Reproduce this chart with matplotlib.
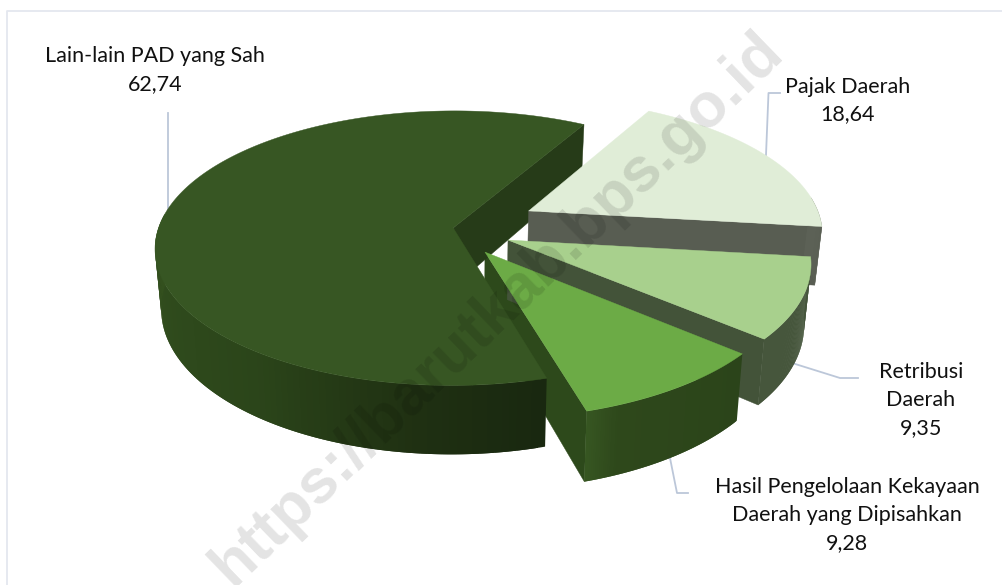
import numpy as np
import matplotlib
matplotlib.use("Agg")
import matplotlib.pyplot as plt
from matplotlib.collections import PolyCollection
from matplotlib.colors import to_rgb

# Data
labels = ["Pajak Daerah", "Retribusi\nDaerah", "Hasil Pengelolaan Kekayaan\nDaerah yang Dipisahkan", "Lain-lain PAD yang Sah"]
values = [18.64, 9.35, 9.28, 62.74]
value_labels = ["18,64", "9,35", "9,28", "62,74"]

# Look of the 3D pie (pixel units, y down)
first_angle = 29.7
cx, cy = 465, 232
rx, ry = 296, 135.5
persp = 0.148
depth = 59
shrink = 0.98
explode = [(0.22, 0.159), (0.144, -0.059), (0.066, -0.145), (-0.04, 0.03)]
top_colors = ["#E0EDD7", "#A8D08D", "#6CAB46", "#375623"]
face_colors = ["#585D52", "#435339", "#2D491B", "#263B18"]
wall_angles = [
    [84, 97],
    [97, 131],
    [131, 158, 164],
    [164, 185, 215, 250, 276],
]
wall_colors = [
    ["#5E6358", "#5E6358"],
    ["#46563C", "#46563C"],
    ["#2B441A", "#2E481B", "#375722"],
    ["#192810", "#1F3012", "#2B451A", "#304C1D", "#35521F"],
]


def project(a, off, low=False):
    a = np.radians(a)
    x = np.sin(a) + off[0]
    y = np.cos(a) + off[1]
    s = 1 / (1 + persp * y)
    px = rx * x * s
    py = -ry * y * s
    if low:
        return cx + px * shrink, cy + py + depth * s
    return cx + px, cy + py


def apex(off, low=False):
    x, y = off
    s = 1 / (1 + persp * y)
    px = rx * x * s
    py = -ry * y * s
    if low:
        return cx + px * shrink, cy + py + depth * s
    return cx + px, cy + py


def draw_face(i):
    # flat cut side at the end of the slice
    off = explode[i]
    px, py = project(ends[i], off)
    qx, qy = project(ends[i], off, low=True)
    ux, uy = apex(off)
    vx, vy = apex(off, low=True)
    ax.fill([ux, px, qx, vx], [uy, py, qy, vy], color=face_colors[i], lw=0.3, zorder=2)


def draw_wall(i):
    # outer wall, only the part turned to the viewer
    off = explode[i]
    a0 = max(starts[i], 84)
    a1 = min(ends[i], 276)
    angs = np.linspace(a0, a1, 90)
    rgb = np.array([to_rgb(c) for c in wall_colors[i]])
    quads, cols = [], []
    for j in range(len(angs) - 1):
        # each piece runs under the next one so no seams show
        a = angs[j]
        b = angs[min(j + 2, len(angs) - 1)]
        arc = np.linspace(a, b, 4)
        tx, ty = project(arc, off)
        qx, qy = project(arc[::-1], off, low=True)
        quads.append(np.c_[np.r_[tx, qx], np.r_[ty, qy]])
        cols.append([np.interp(angs[j], wall_angles[i], rgb[:, k]) for k in range(3)])
    ax.add_collection(PolyCollection(quads, facecolors=cols, edgecolors="none", zorder=2))


def draw_top(i):
    off = explode[i]
    angs = np.linspace(starts[i], ends[i], 200)
    tx, ty = project(angs, off)
    ux, uy = apex(off)
    ax.fill(np.r_[ux, tx], np.r_[uy, ty], color=top_colors[i], lw=0.3, zorder=2)


fig = plt.figure(figsize=(10.03, 5.85), dpi=100)
ax = fig.add_axes([0, 0, 1, 1])
ax.set_xlim(0, 1003)
ax.set_ylim(585, 0)
ax.axis("off")

# Chart frame
ax.plot([7, 7, 1003], [585, 10.5, 10.5], color="#E4E7EF", lw=1.3, zorder=1)

# Slice angles come from the values
total = sum(values)
spans = np.array(values) / total * 360
starts = first_angle + np.concatenate([[0], np.cumsum(spans)[:-1]])
ends = starts + spans

# Painting order: the big slice hides the cut side of Hasil
draw_face(2)
draw_face(3)
draw_wall(3)
draw_top(3)
for i in [0, 1]:
    draw_face(i)
    draw_wall(i)
    draw_top(i)
draw_wall(2)
draw_top(2)

# Leader lines
line_col = "#BCC7D9"
ax.plot([168, 168], [113, 212], color=line_col, lw=1.3, zorder=1)
ax.plot([766, 768.5, 780], [155, 93, 93], color=line_col, lw=1.3, zorder=1)
ax.plot([792, 840, 858], [363, 378, 378], color=line_col, lw=1.3, zorder=1)
ax.plot([670, 677, 688], [458, 493, 493], color=line_col, lw=1.3, zorder=1)

# Data labels
label_pos = [(848, 100.5), (921, 400), (847, 515), (155, 70)]
for lab, val, (x, y) in zip(labels, value_labels, label_pos):
    ax.text(x, y, lab + "\n" + val, ha="center", va="center", fontsize=15.5,
            family="Lato", color="#111111", linespacing=1.48, zorder=4)

# Watermark
ax.text(497, 309, "https://barutkab.bps.go.id", rotation=44, rotation_mode="anchor",
        ha="center", va="center", fontsize=45, family="Liberation Sans", weight="bold",
        color="black", alpha=0.11, zorder=5, clip_on=True)

fig.savefig("out.png", dpi=100)
